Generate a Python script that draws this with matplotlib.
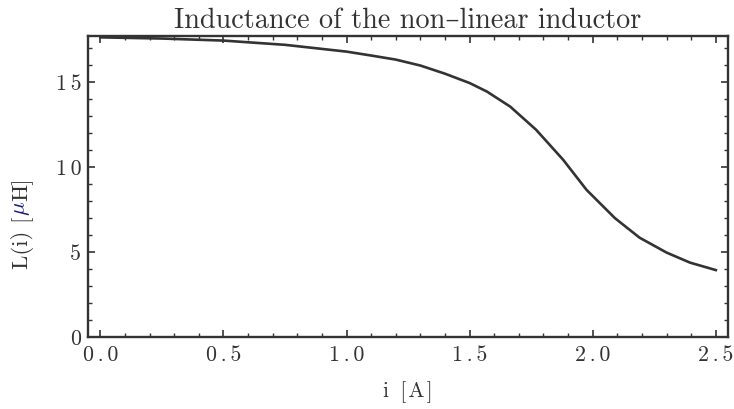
import matplotlib
matplotlib.use("Agg")
import matplotlib.pyplot as plt
from matplotlib.ticker import MultipleLocator, FuncFormatter

plt.rcParams['font.family'] = ['cmr10', 'DejaVu Serif']
plt.rcParams['mathtext.fontset'] = 'cm'

# current [A] and inductance [uH]
current = [0.0, 0.25, 0.5, 0.75, 1.0, 1.1, 1.2, 1.3, 1.4, 1.5, 1.57, 1.665,
           1.77, 1.88, 1.975, 2.09, 2.19, 2.30, 2.395, 2.5]
inductance = [17.64, 17.57, 17.45, 17.2, 16.8, 16.57, 16.33, 15.98, 15.5, 14.95,
              14.45, 13.56, 12.2, 10.43, 8.66, 7.0, 5.85, 4.97, 4.38, 3.94]

x_ticks = [0.0, 0.5, 1.0, 1.5, 2.0, 2.5]
y_ticks = [0, 5, 10, 15]

ink = '#333333'


def spaced(s, gap='\u2006'):
    # mimic the loose letter spacing of the original
    return gap.join(s)


fig = plt.figure(figsize=(7.34, 4.09), dpi=100)
ax = fig.add_axes([0.12, 0.176, 0.872, 0.736])

ax.plot(current, inductance, color=ink, lw=1.9)

ax.set_xlim(-0.05, 2.55)
ax.set_ylim(0, 17.72)
ax.set_xticks(x_ticks)
ax.set_yticks(y_ticks)
ax.xaxis.set_minor_locator(MultipleLocator(0.1))
ax.yaxis.set_minor_locator(MultipleLocator(1))
ax.xaxis.set_major_formatter(FuncFormatter(lambda v, p: spaced(f'{v:.1f}')))
ax.yaxis.set_major_formatter(FuncFormatter(lambda v, p: spaced(f'{v:.0f}')))

ax.tick_params(which='both', direction='in', top=True, right=True, colors=ink,
               labelsize=15.8)
ax.tick_params(which='major', length=5, width=1.2)
ax.tick_params(which='minor', length=3, width=1.0)
ax.tick_params(axis='x', pad=6)
ax.tick_params(axis='y', pad=5)
for s in ax.spines.values():
    s.set_linewidth(1.7)
    s.set_color(ink)

ax.set_title('Inductance of the non–linear inductor', fontsize=20.3, color=ink, pad=6)
ax.set_xlabel(spaced('i [A]', '\u200a'), fontsize=15.5, color=ink, labelpad=12)

# y label built from pieces so the mu can be blue
fig.canvas.draw()
r = fig.canvas.get_renderer()
x_lab = 22
parts = [('L(i) [', ink), (r'$\mu$', '#1a1a80'), ('H]', ink)]
sizes = []
for txt, c in parts:
    t = fig.text(0, 0, txt, rotation=90, fontsize=16.5, color=c,
                 ha='center', va='bottom', transform=None)
    sizes.append((t, t.get_window_extent(renderer=r).height))
total = sum(h for _, h in sizes)
y_pos = 186 - total / 2
for t, h in sizes:
    t.set_position((x_lab, y_pos))
    y_pos += h

fig.savefig('out.png', dpi=100)
